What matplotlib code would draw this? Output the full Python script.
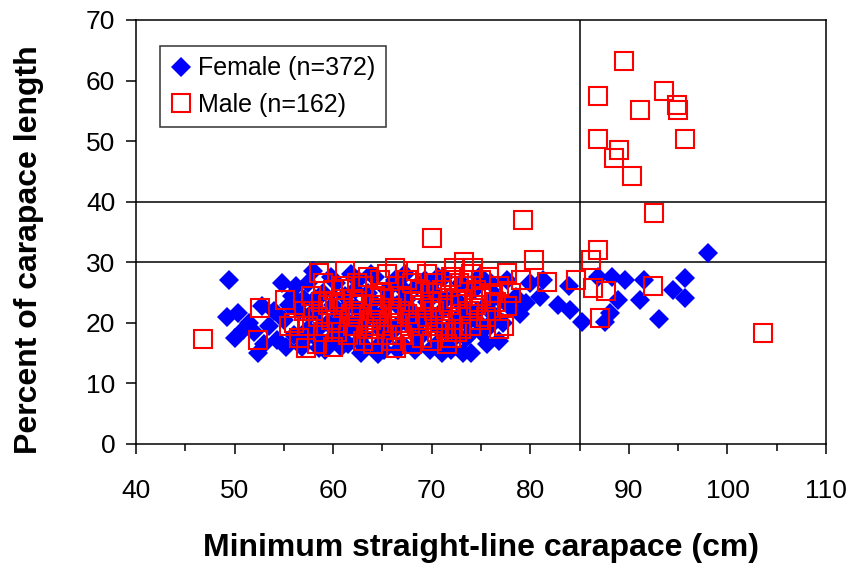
import matplotlib
matplotlib.use("Agg")
import matplotlib.pyplot as plt
from matplotlib.ticker import MultipleLocator

plt.rcParams['font.family'] = ['Liberation Sans', 'DejaVu Sans']

# ---- data ----
female_x = [49.4, 49.2, 50.4, 50.9, 50.0, 51.5, 52.4, 52.8, 54.3, 54.8, 53.5, 55.5, 55.0, 56.0, 56.5, 55.8, 53.0, 56.8, 57.5, 57.0,
            58.0, 58.5, 58.3, 59.0, 59.5, 59.2, 60.0, 60.5, 60.3, 61.0, 61.5, 61.2, 62.0, 62.5, 62.3, 62.8, 63.0, 63.5, 63.3, 64.0,
            64.5, 64.2, 64.8, 65.0, 65.5, 65.2, 66.0, 66.5, 66.3, 66.8, 59.8, 61.8, 63.8, 60.8, 62.6, 64.6, 58.8, 57.8,
            67.0, 67.5, 67.3, 67.8, 68.0, 68.5, 68.3, 69.0, 69.5, 69.3, 70.0, 70.5, 70.3, 71.0, 71.5, 71.2, 72.0, 72.5, 72.3, 73.0,
            73.5, 73.3, 74.0, 74.5, 74.3, 75.0, 75.5, 75.3, 76.0, 76.5, 68.8, 70.8, 72.8, 69.8, 71.8, 73.8,
            77.6, 77.2, 78.6, 79.6, 81.0, 81.3, 82.8, 83.9, 84.0, 85.2, 86.9, 88.1, 88.3, 88.9, 89.6, 91.1, 91.5, 93.1, 94.5, 95.7,
            95.7, 98.0, 80.0, 79.0, 87.6, 76.8, 75.9,
            57.5, 58.2, 59.6, 60.6, 61.4, 62.2, 63.2, 64.4, 65.4, 65.8, 66.6, 67.6, 68.6, 69.6, 70.6, 71.4, 72.6, 73.6, 74.6, 75.6,
            76.2, 77.0, 58.6, 60.2, 61.6, 63.6, 65.6, 67.2, 69.2, 71.0, 73.2, 74.8, 57.2, 56.2, 54.0, 52.0, 55.2, 78.0, 76.0, 62.8]
female_y = [27.1, 21.0, 21.6, 18.8, 17.5, 20.0, 15.0, 22.7, 17.2, 26.5, 19.5, 23.0, 20.5, 18.0, 22.0, 24.5, 16.5, 16.0, 19.0, 24.0,
            28.5, 22.0, 17.5, 25.0, 20.0, 15.5, 23.0, 18.0, 26.5, 21.0, 16.5, 24.5, 19.5, 27.0, 22.5, 15.0, 18.0, 25.0, 20.5, 23.5,
            16.0, 27.5, 19.0, 21.5, 25.5, 15.5, 18.5, 23.0, 27.0, 20.0, 27.5, 28.0, 28.0, 16.0, 17.0, 14.8, 19.5, 21.5,
            16.5, 24.0, 28.0, 19.5, 22.0, 26.0, 15.5, 18.0, 23.5, 27.0, 20.5, 16.5, 25.0, 22.0, 18.5, 27.5, 15.5, 24.0, 20.0, 26.5,
            17.5, 22.5, 15.0, 20.5, 25.5, 18.5, 23.0, 27.0, 20.0, 24.5, 20.5, 19.0, 21.0, 15.5, 16.0, 18.0,
            27.1, 20.0, 24.3, 23.2, 24.3, 27.1, 22.9, 26.0, 22.1, 20.2, 27.6, 21.6, 27.6, 23.8, 27.1, 23.8, 27.1, 20.7, 25.4, 27.4,
            24.1, 31.6, 26.5, 21.5, 20.2, 17.0, 19.5,
            26.5, 24.0, 17.0, 21.5, 19.0, 25.5, 16.0, 21.0, 17.5, 23.5, 15.5, 21.5, 17.5, 25.5, 27.5, 24.0, 18.0, 20.0, 22.0, 16.5,
            21.5, 24.0, 15.8, 19.5, 23.0, 22.0, 19.5, 25.5, 21.5, 15.0, 15.0, 27.5, 17.5, 26.0, 22.0, 18.5, 16.0, 22.5, 26.5, 20.5]

male_x = [46.8, 52.6, 52.4, 55.1, 57.2, 58.6, 56.0, 57.8, 58.5, 59.0, 59.5, 60.0, 60.5, 61.0, 61.5, 62.0, 62.5, 63.0, 63.5, 64.0,
          64.5, 65.0, 65.5, 66.0, 66.3, 66.5, 67.0, 67.5, 68.0, 68.5, 69.0, 69.5, 70.0, 70.0, 70.5, 71.0, 71.5, 72.0, 72.3, 72.5,
          73.0, 73.3, 73.5, 74.0, 74.5, 75.0, 75.5, 76.0, 76.5, 77.3, 77.6, 77.6, 79.1, 79.3, 80.4, 81.7, 84.6, 86.2, 86.9, 86.4,
          87.7, 87.1, 92.4, 103.6, 86.9, 89.5, 93.6, 91.1, 94.9, 95.0, 95.7, 86.9, 89.0, 88.5, 90.3, 92.6,
          60.2, 62.2, 64.2, 66.2, 68.2, 70.2, 63.0, 65.0, 67.0, 69.0, 61.0, 63.5, 65.5, 67.5, 69.5, 71.0, 73.0, 74.0, 58.0, 59.0,
          56.5, 60.0, 62.0, 64.0, 66.0, 68.0, 70.0, 72.0, 71.5, 73.0, 75.0, 76.0, 74.5,
          57.5, 58.8, 59.8, 60.8, 61.8, 62.8, 63.8, 64.8, 65.8, 66.8, 67.8, 68.8, 69.8, 70.8, 71.8, 72.8, 73.8, 74.8, 75.8, 76.8,
          61.2, 64.8, 68.4, 72.0, 74.2, 60.4, 63.6, 66.8, 69.6, 72.6, 58.4, 66.4, 71.6, 64.2, 62.4, 70.4, 57.0, 55.5, 78.0, 76.8]
male_y = [17.3, 22.4, 17.1, 23.7, 15.8, 28.2, 20.0, 24.5, 21.0, 18.5, 23.0, 25.5, 20.0, 22.5, 18.0, 24.0, 21.0, 26.0, 19.0, 23.0,
          21.5, 25.0, 18.0, 22.5, 29.0, 20.0, 24.5, 21.5, 26.5, 19.5, 23.0, 21.0, 34.0, 25.0, 18.5, 22.5, 27.0, 20.5, 29.0, 24.0,
          21.5, 30.0, 26.0, 19.5, 23.0, 27.0, 21.0, 25.0, 23.5, 19.4, 22.7, 28.2, 27.1, 37.0, 30.4, 26.8, 27.1, 30.4, 32.0, 25.7,
          25.2, 20.8, 26.1, 18.4, 57.5, 63.3, 58.3, 55.1, 55.9, 55.1, 50.4, 50.4, 48.5, 47.2, 44.3, 38.2,
          23.5, 22.0, 24.5, 21.0, 23.5, 22.0, 17.0, 19.5, 18.0, 17.5, 26.0, 27.5, 28.0, 27.0, 28.0, 25.5, 24.0, 28.0, 22.0, 26.5,
          17.5, 16.0, 19.5, 16.5, 17.0, 16.5, 17.0, 17.5, 19.0, 19.0, 24.5, 22.0, 25.5,
          19.5, 23.5, 20.5, 24.0, 21.5, 23.0, 20.5, 22.5, 24.0, 22.0, 20.0, 25.5, 23.5, 20.5, 23.0, 26.5, 22.0, 20.5, 27.5, 26.0,
          28.5, 27.0, 28.5, 27.5, 29.0, 18.5, 18.0, 19.0, 19.5, 18.5, 16.5, 15.8, 16.5, 19.0, 26.5, 26.5, 22.0, 19.5, 25.0, 19.0]

female_label = "Female (n=372)"
male_label = "Male (n=162)"
x_label = "Minimum straight-line carapace (cm)"
y_label = "Percent of carapace length"
h_lines = [30, 40]
v_lines = [85]

fig = plt.figure(figsize=(8.52, 5.69), dpi=100)
ax = fig.add_axes([0.1596, 0.2197, 0.8099, 0.7452])

ax.plot(female_x, female_y, linestyle='none', marker='D', ms=10.2, color='#0000FF',
        mec='#0000FF', mew=0, label=female_label, zorder=3)
ax.plot(male_x, male_y, linestyle='none', marker='s', ms=12.5, mfc='none',
        mec='#FF0000', mew=1.5, label=male_label, zorder=4)

for h in h_lines:
    ax.axhline(h, color='black', lw=1.1, zorder=2)
for v in v_lines:
    ax.axvline(v, color='black', lw=1.1, zorder=2)

ax.set_xlim(40, 110)
ax.set_ylim(0, 70)
ax.xaxis.set_major_locator(MultipleLocator(10))
ax.xaxis.set_minor_locator(MultipleLocator(5))
ax.yaxis.set_major_locator(MultipleLocator(10))
ax.tick_params(axis='x', which='major', direction='out', length=7, width=1.1, labelsize=19, pad=18)
ax.tick_params(axis='x', which='minor', direction='out', length=5, width=1.1)
ax.tick_params(axis='y', which='major', direction='out', length=7, width=1.1, labelsize=19, pad=8)
for s in ax.spines.values():
    s.set_linewidth(1.1)
    s.set_color('black')

ax.set_xlabel(x_label, fontsize=23, fontweight='bold', labelpad=22)
ax.set_ylabel(y_label, fontsize=23, fontweight='bold')
ax.yaxis.set_label_coords(-0.133, 0.4575)

leg = ax.legend(loc='upper left', bbox_to_anchor=(0.035, 0.939), borderaxespad=0,
                fontsize=18, frameon=True, fancybox=False, edgecolor='black',
                handlelength=0.8, handletextpad=0.3, labelspacing=0.5,
                borderpad=0.42, numpoints=1)
leg.get_frame().set_linewidth(1.1)

fig.savefig("out.png", dpi=100)
